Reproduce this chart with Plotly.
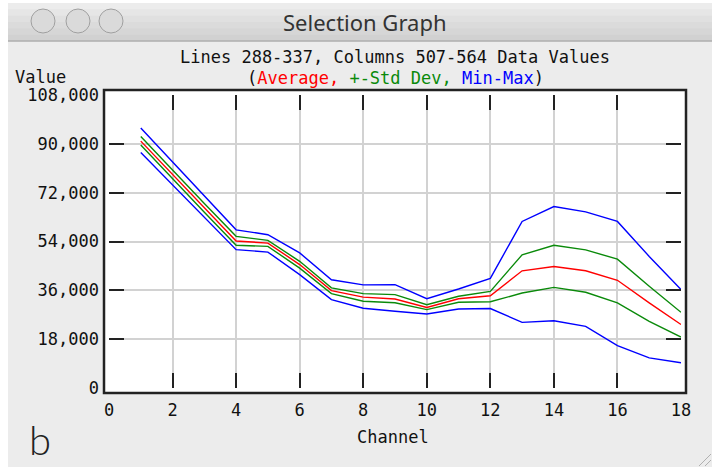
import plotly.graph_objects as go

# ---- data ----
channels = list(range(1, 19))
avg      = [91.0, 78.6, 66.3, 54.2, 53.4, 45.5, 35.9, 33.5, 32.8, 29.7, 32.9, 34.0, 43.2, 44.8, 43.2, 39.7, 31.4, 23.4]
std_hi   = [92.7, 80.2, 68.0, 55.9, 54.4, 46.7, 36.9, 34.8, 34.4, 30.7, 33.8, 35.6, 49.1, 52.6, 50.9, 47.5, 37.5, 27.9]
std_lo   = [89.6, 77.0, 64.8, 52.6, 52.2, 44.2, 34.8, 32.0, 31.4, 28.9, 31.6, 31.8, 35.0, 37.1, 35.3, 31.4, 24.6, 18.8]
max_v    = [95.8, 83.2, 70.7, 58.3, 56.5, 49.8, 39.9, 38.0, 38.1, 32.9, 36.5, 40.4, 61.4, 66.9, 64.9, 61.4, 48.5, 36.3]
min_v    = [86.8, 74.8, 62.9, 51.0, 50.1, 41.8, 32.6, 29.4, 28.3, 27.3, 29.1, 29.3, 24.2, 24.8, 22.7, 15.6, 11.1, 9.3]

x_ticks = [0, 2, 4, 6, 8, 10, 12, 14, 16, 18]
y_ticks = [0, 18000, 36000, 54000, 72000, 90000, 108000]
y_tick_text = ["0", "18,000", "36,000", "54,000", "72,000", "90,000", "108,000"]

W, H = 712, 467
L, R, T, B = 109, 31, 95, 79
PW, PH = W - L - R, H - T - B


def px(x):
    return (x - L) / PW


def py(y):
    return (H - B - y) / PH


MONO = "DejaVu Sans Mono"

fig = go.Figure()


def k(vals):
    return [v * 1000 for v in vals]


fig.add_trace(go.Scatter(x=channels, y=k(max_v), mode="lines", line=dict(color="#0000ff", width=1.4)))
fig.add_trace(go.Scatter(x=channels, y=k(min_v), mode="lines", line=dict(color="#0000ff", width=1.4)))
fig.add_trace(go.Scatter(x=channels, y=k(std_hi), mode="lines", line=dict(color="#0a8a0a", width=1.4)))
fig.add_trace(go.Scatter(x=channels, y=k(std_lo), mode="lines", line=dict(color="#0a8a0a", width=1.4)))
fig.add_trace(go.Scatter(x=channels, y=k(avg), mode="lines", line=dict(color="#ff0000", width=1.4)))

shapes = []
# window body
shapes.append(dict(type="rect", xref="paper", yref="paper", x0=px(8), x1=px(712), y0=py(3), y1=py(470),
                   fillcolor="#ececec", line=dict(width=0), layer="below"))
# title bar gradient bands
tb_colors = ["#ececec", "#e6e6e6", "#e0e0e0", "#dbdbdb", "#d6d6d6", "#d1d1d1"]
band_h = 38 / len(tb_colors)
for i, c in enumerate(tb_colors):
    shapes.append(dict(type="rect", xref="paper", yref="paper", x0=px(8), x1=px(712),
                       y0=py(3 + i * band_h), y1=py(3 + (i + 1) * band_h + 0.5),
                       fillcolor=c, line=dict(width=0), layer="below"))
shapes.append(dict(type="line", xref="paper", yref="paper", x0=px(8), x1=px(712), y0=py(41), y1=py(41),
                   line=dict(color="#9c9c9c", width=1), layer="below"))
# window buttons
for cx in [43, 78, 111]:
    shapes.append(dict(type="circle", xref="paper", yref="paper", x0=px(cx - 12), x1=px(cx + 12),
                       y0=py(21 - 12), y1=py(21 + 12), fillcolor="#dadada",
                       line=dict(color="#a0a0a0", width=1), layer="below"))
# plot frame
shapes.append(dict(type="rect", xref="paper", yref="paper", x0=px(104), x1=px(686), y0=py(90), y1=py(393),
                   fillcolor="white", line=dict(color="#222222", width=2.5), layer="below"))
# resize grip
for d in [6, 12]:
    shapes.append(dict(type="line", xref="paper", yref="paper", x0=px(711 - d), x1=px(711), y0=py(466), y1=py(466 - d),
                       line=dict(color="#b0b0b0", width=1)))

annotations = [
    dict(text="Selection Graph", xref="paper", yref="paper", x=px(365), y=py(22), showarrow=False,
         xanchor="center", yanchor="middle", font=dict(family="Noto Sans", size=22, color="#333333")),
    dict(text="Lines 288-337, Columns 507-564 Data Values", xref="paper", yref="paper", x=px(395), y=py(57.5),
         showarrow=False, xanchor="center", yanchor="middle", font=dict(family=MONO, size=17, color="#111111")),
    dict(text="(<span style='color:#ff0000'>Average,</span> <span style='color:#0a8a0a'>+-Std Dev,</span> "
              "<span style='color:#0000ff'>Min-Max</span>)",
         xref="paper", yref="paper", x=px(395), y=py(78.5), showarrow=False, xanchor="center", yanchor="middle",
         font=dict(family=MONO, size=17, color="#111111")),
    dict(text="Value", xref="paper", yref="paper", x=px(13), y=py(77), showarrow=False,
         xanchor="left", yanchor="middle", font=dict(family=MONO, size=17, color="#111111")),
    dict(text="Channel", xref="paper", yref="paper", x=px(393), y=py(437), showarrow=False,
         xanchor="center", yanchor="middle", font=dict(family=MONO, size=17, color="#111111")),
    dict(text="b", xref="paper", yref="paper", x=px(40), y=py(440), showarrow=False,
         xanchor="center", yanchor="middle", font=dict(family="Lato", size=40, color="#222222", weight=300)),
]

fig.update_layout(
    width=W, height=H,
    margin=dict(l=L, r=R, t=T, b=B, pad=0),
    paper_bgcolor="white",
    plot_bgcolor="white",
    showlegend=False,
    shapes=shapes,
    annotations=annotations,
)

fig.update_xaxes(range=[0, 18], tickvals=x_ticks, ticktext=[str(v) for v in x_ticks],
                 showgrid=True, gridcolor="#d2d2d2", gridwidth=2, zeroline=False, showline=False,
                 ticks="inside", ticklen=15, tickwidth=2, tickcolor="#222222", mirror="ticks",
                 ticklabelstandoff=10,
                 tickfont=dict(family=MONO, size=17, color="#111111"))
fig.update_yaxes(range=[0, 108000], tickvals=y_ticks, ticktext=y_tick_text,
                 showgrid=True, gridcolor="#d2d2d2", gridwidth=2, zeroline=False, showline=False,
                 ticks="inside", ticklen=15, tickwidth=2, tickcolor="#222222", mirror="ticks",
                 ticklabelstandoff=9,
                 tickfont=dict(family=MONO, size=17, color="#111111"))

fig.write_html("out.html")
